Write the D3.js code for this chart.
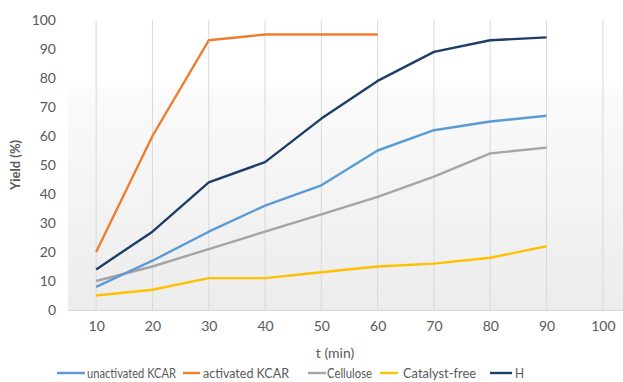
<!DOCTYPE html>
<html><head><meta charset="utf-8">
<script src="https://cdn.jsdelivr.net/npm/d3@7"></script>
<style>body{margin:0;background:#fff;overflow:hidden}svg{display:block;font-family:Lato,"Open Sans",sans-serif}</style>
</head><body>
<svg id="c" width="623" height="382"></svg>
<script>
const categories = [10,20,30,40,50,60,70,80,90,100];
const yTicks = [0,10,20,30,40,50,60,70,80,90,100];
const seriesNames = ["unactivated KCAR","activated KCAR","Cellulose","Catalyst-free","H"];
const seriesColors = ["#5b9bd5","#ed7d31","#a5a5a5","#ffc000","#1f3d66"];
const unactivatedKCAR = [8,17,27,36,43,55,62,65,67];
const activatedKCAR = [20,60,93,95,95,95];
const cellulose = [10,15,21,27,33,39,46,54,56];
const catalystFree = [5,7,11,11,13,15,16,18,22];
const hSeries = [14,27,44,51,66,79,89,93,94];
const seriesValues = [unactivatedKCAR, activatedKCAR, cellulose, catalystFree, hSeries];
const drawOrder = [2,3,0,4,1];

const svg = d3.select("#c");
const x = d3.scalePoint().domain(categories).range([68,631]).padding(0.5);
const y = d3.scaleLinear().domain([0,100]).range([310,20]);

const defs = svg.append("defs");
const g = defs.append("linearGradient").attr("id","bg").attr("x1",0).attr("y1",0).attr("x2",0).attr("y2",1);
g.append("stop").attr("offset","0%").attr("stop-color","#fbfbfb");
g.append("stop").attr("offset","100%").attr("stop-color","#ececec");
svg.append("rect").attr("x",68).attr("y",87).attr("width",560).attr("height",223).attr("fill","url(#bg)");

// vertical gridlines
svg.append("g").selectAll("line").data(categories).join("line")
  .attr("x1",d=>x(d)).attr("x2",d=>x(d)).attr("y1",y(100)).attr("y2",y(0))
  .attr("stroke","#d9d9d9").attr("stroke-width",1);
// baseline
svg.append("line").attr("x1",68).attr("x2",623).attr("y1",y(0)+0.5).attr("y2",y(0)+0.5).attr("stroke","#d9d9d9");

// y axis
const ya = svg.append("g").attr("transform","translate(56,0)")
  .call(d3.axisLeft(y).tickValues(yTicks).tickSize(0).tickPadding(0));
ya.select(".domain").remove();
ya.selectAll("text").attr("fill","#595959").style("font-size","14px").style("font-family","Lato,sans-serif");

// x axis
const xa = svg.append("g").attr("transform","translate(0,321)")
  .call(d3.axisBottom(x).tickSize(0).tickPadding(0));
xa.select(".domain").remove();
xa.selectAll("text").attr("fill","#595959").style("font-size","14px").style("font-family","Lato,sans-serif");

svg.append("text").attr("x",335).attr("y",358).attr("text-anchor","middle")
  .attr("fill","#595959").style("font-size","14px").text("t (min)");
svg.append("text").attr("transform","translate(20,165) rotate(-90)").attr("text-anchor","middle")
  .attr("fill","#595959").style("font-size","13px").style("font-weight","bold").text("Yield (%)");

// lines
const line = d3.line().x((d,i)=>x(categories[i])).y(d=>y(d));
svg.append("g").selectAll("path").data(drawOrder).join("path")
  .attr("d",k=>line(seriesValues[k])).attr("fill","none")
  .attr("stroke",k=>seriesColors[k]).attr("stroke-width",2.4).attr("stroke-linejoin","round");

// legend
const legendX = [57,183,308,380,490];
const legendLen = [28,17,18,18,22];
const lg = svg.append("g");
seriesNames.forEach((n,i)=>{
  lg.append("line").attr("x1",legendX[i]).attr("x2",legendX[i]+legendLen[i]).attr("y1",373).attr("y2",373)
    .attr("stroke",seriesColors[i]).attr("stroke-width",2.4);
});
const legendTextX = [87,203,327,403,515];
const legendTextW = [89,86,45,73,9];
seriesNames.forEach((n,i)=>{
  lg.append("text").attr("x",legendTextX[i]).attr("y",378).attr("fill","#595959")
    .style("font-size","13.5px").attr("textLength",legendTextW[i]).attr("lengthAdjust","spacingAndGlyphs").text(n);
});
</script>
</body></html>
